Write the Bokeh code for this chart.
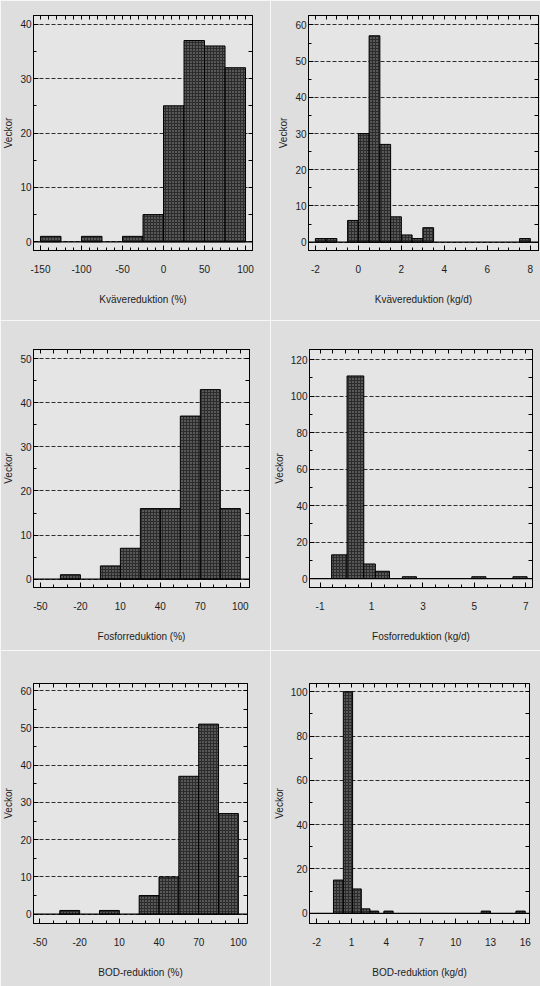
import math
import numpy as np
from bokeh.plotting import figure
from bokeh.layouts import column, row
from bokeh.models import FixedTicker, LinearAxis, Span, Range1d
from bokeh.embed import file_html
from bokeh.resources import INLINE

# ---------------- data (histogram bins) ----------------
kv_pct_left = [-150, -100, -50, -25, 0, 25, 50, 75]
kv_pct_right = [-125, -75, -25, 0, 25, 50, 75, 100]
kv_pct_count = [1, 1, 1, 5, 25, 37, 36, 32]
kv_pct_xticks = [-150, -100, -50, 0, 50, 100]
kv_pct_yticks = [0, 10, 20, 30, 40]

kv_kg_left = [-2.0, -1.5, -0.5, 0.0, 0.5, 1.0, 1.5, 2.0, 2.5, 3.0, 7.5]
kv_kg_right = [-1.5, -1.0, 0.0, 0.5, 1.0, 1.5, 2.0, 2.5, 3.0, 3.5, 8.0]
kv_kg_count = [1, 1, 6, 30, 57, 27, 7, 2, 1, 4, 1]
kv_kg_xticks = [-2, 0, 2, 4, 6, 8]
kv_kg_yticks = [0, 10, 20, 30, 40, 50, 60]

p_pct_left = [-35, -5, 10, 25, 40, 55, 70, 85]
p_pct_right = [-20, 10, 25, 40, 55, 70, 85, 100]
p_pct_count = [1, 3, 7, 16, 16, 37, 43, 16]
p_pct_xticks = [-50, -20, 10, 40, 70, 100]
p_pct_yticks = [0, 10, 20, 30, 40, 50]

p_kg_left = [-0.55, 0.05, 0.7, 1.15, 2.2, 4.9, 6.5]
p_kg_right = [0.05, 0.7, 1.15, 1.7, 2.75, 5.45, 7.05]
p_kg_count = [13, 111, 8, 4, 1, 1, 1]
p_kg_xticks = [-1, 1, 3, 5, 7]
p_kg_yticks = [0, 20, 40, 60, 80, 100, 120]

bod_pct_left = [-35, -5, 25, 40, 55, 70, 85]
bod_pct_right = [-20, 10, 40, 55, 70, 85, 100]
bod_pct_count = [1, 1, 5, 10, 37, 51, 27]
bod_pct_xticks = [-50, -20, 10, 40, 70, 100]
bod_pct_yticks = [0, 10, 20, 30, 40, 50, 60]

bod_kg_left = [-0.55, 0.3, 1.1, 1.85, 2.6, 3.8, 12.2, 15.2]
bod_kg_right = [0.3, 1.1, 1.85, 2.6, 3.35, 4.6, 13.0, 16.0]
bod_kg_count = [15, 100, 11, 2, 1, 1, 1, 1]
bod_kg_xticks = [-2, 1, 4, 7, 10, 13, 16]
bod_kg_yticks = [0, 20, 40, 60, 80, 100]

y_label = "Veckor"

FONT = "Liberation Sans"
TXT = "#1c1c1c"
PAGE_BG = "#dedede"
PLOT_BG = "#e5e5e5"


def minors(ticks, n, lo, hi):
    step = (ticks[1] - ticks[0]) / n
    start = ticks[0] - step * math.ceil((ticks[0] - lo) / step)
    return [float(v) for v in np.arange(start, hi + 1e-9, step)]


def style_axis(ax, ticker):
    ax.ticker = ticker
    ax.axis_line_color = "black"
    ax.axis_line_width = 1
    ax.major_tick_in = 5
    ax.major_tick_out = 0
    ax.minor_tick_in = 3
    ax.minor_tick_out = 0
    ax.major_tick_line_color = "black"
    ax.minor_tick_line_color = "black"
    ax.major_label_text_font = FONT
    ax.major_label_text_color = TXT
    ax.major_label_text_font_size = "10px"


def make(left, right, counts, xticks, yticks, xr, yr, xlabel, w, h,
         bl, br, bt, bb, nx, ny):
    p = figure(width=w, height=h, x_range=Range1d(*xr), y_range=Range1d(*yr),
               output_backend="svg", toolbar_location=None,
               min_border_left=bl, min_border_right=br,
               min_border_top=bt, min_border_bottom=bb,
               background_fill_color=PLOT_BG, border_fill_color=PAGE_BG)
    p.outline_line_color = "black"
    p.outline_line_width = 1

    xmin = minors(xticks, nx, xr[0], xr[1])
    ymin = minors(yticks, ny, yr[0], yr[1])
    xt = FixedTicker(ticks=xticks, minor_ticks=xmin)
    yt = FixedTicker(ticks=yticks, minor_ticks=ymin)

    style_axis(p.xaxis[0], xt)
    style_axis(p.yaxis[0], yt)
    p.xaxis[0].major_label_overrides = {t: str(t) for t in xticks}
    p.yaxis[0].major_label_overrides = {t: str(t) for t in yticks}
    p.xaxis[0].major_label_standoff = 14
    p.yaxis[0].major_label_standoff = 2
    p.xaxis[0].axis_label = xlabel
    p.xaxis[0].axis_label_standoff = 18
    p.xaxis[0].axis_label_text_font = FONT
    p.xaxis[0].axis_label_text_font_style = "normal"
    p.xaxis[0].axis_label_text_font_size = "10px"
    p.xaxis[0].axis_label_text_color = TXT
    p.yaxis[0].axis_label = y_label
    p.yaxis[0].axis_label_standoff = 3
    p.yaxis[0].axis_label_text_font = FONT
    p.yaxis[0].axis_label_text_font_style = "normal"
    p.yaxis[0].axis_label_text_font_size = "10px"
    p.yaxis[0].axis_label_text_color = TXT

    # tick-only axes on the top and right (no major ticks -> no label texts)
    top = LinearAxis()
    style_axis(top, FixedTicker(ticks=[], minor_ticks=xmin))
    top.minor_tick_in = 4
    top.major_label_standoff = 0
    p.add_layout(top, "above")
    rgt = LinearAxis()
    style_axis(rgt, FixedTicker(ticks=[], minor_ticks=ymin))
    rgt.minor_tick_in = 4
    rgt.major_label_standoff = 0
    p.add_layout(rgt, "right")

    p.xgrid.visible = False
    p.ygrid.ticker = FixedTicker(ticks=yticks)
    p.ygrid.grid_line_color = "#2e2e2e"
    p.ygrid.grid_line_dash = "4 2"
    p.ygrid.grid_line_width = 1

    p.quad(left=left, right=right, top=counts, bottom=0,
           fill_color="#2c2c2c", line_color="black", line_width=1,
           hatch_pattern="dot", hatch_color="#9a9a9a", hatch_scale=3,
           hatch_weight=1)
    p.add_layout(Span(location=0, dimension="width", line_color="black",
                      line_width=1.2))
    return p


p1 = make(kv_pct_left, kv_pct_right, kv_pct_count, kv_pct_xticks, kv_pct_yticks,
          (-158.5, 108.5), (-1.6, 41.6), "Kvävereduktion (%)", 270, 320,
          33, 18, 13, 70, 5, 2)
p2 = make(kv_kg_left, kv_kg_right, kv_kg_count, kv_kg_xticks, kv_kg_yticks,
          (-2.32, 8.38), (-2.3, 62.6), "Kvävereduktion (kg/d)", 270, 320,
          38, 2, 15, 59, 4, 2)
p3 = make(p_pct_left, p_pct_right, p_pct_count, p_pct_xticks, p_pct_yticks,
          (-55.2, 106.9), (-1.9, 52.1), "Fosforreduktion (%)", 270, 330,
          29, 21, 27, 63, 3, 2)
p4 = make(p_kg_left, p_kg_right, p_kg_count, p_kg_xticks, p_kg_yticks,
          (-1.41, 7.26), (-4.9, 125.5), "Fosforreduktion (kg/d)", 270, 330,
          36, 8, 29, 62, 4, 2)
p5 = make(bod_pct_left, bod_pct_right, bod_pct_count, bod_pct_xticks, bod_pct_yticks,
          (-54.9, 106.9), (-2.5, 61.9), "BOD-reduktion (%)", 270, 336,
          27, 23, 32, 63, 3, 2)
p6 = make(bod_kg_left, bod_kg_right, bod_kg_count, bod_kg_xticks, bod_kg_yticks,
          (-2.62, 16.37), (-4.6, 103.7), "BOD-reduktion (kg/d)", 270, 336,
          34, 11, 33, 60, 3, 2)

layout = column(row(p1, p2), row(p3, p4), row(p5, p6))

open("out.html", "w").write(file_html(layout, INLINE))
